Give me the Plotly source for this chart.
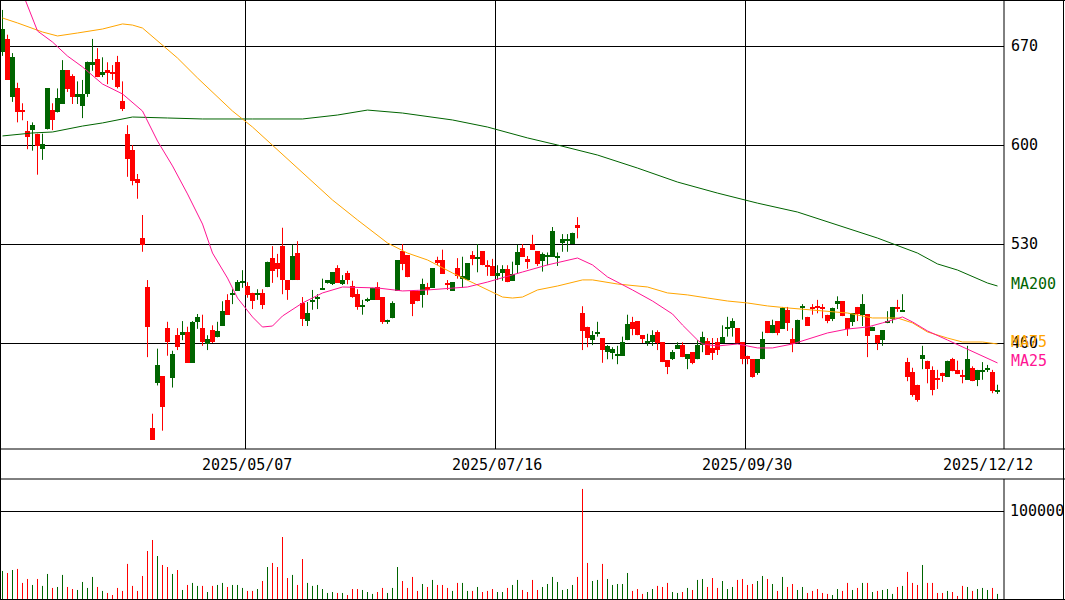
import plotly.graph_objects as go

# ---------------- data ----------------
tick_labels = ["2025/05/07", "2025/07/16", "2025/09/30", "2025/12/12"]
tick_idx = [49, 99, 149, 199]
price_ticks = [460, 530, 600, 670]
vol_ticks = [100000]

opens = [665.5, 675, 634, 640, 624.5, 610, 610.5, 608, 597, 611,
         624.5, 623, 629, 653, 649, 634, 627.5, 636, 656.5, 661,
         649.5, 653, 651.5, 658.5, 631, 608, 596.5, 576, 534.5, 499.5,
         400, 431.5, 436.5, 470.5, 435.5, 465.5, 465.5, 468, 446, 475,
         470.5, 459, 469, 464, 472, 490.5, 494, 497, 502.5, 500.5,
         495.5, 494.5, 495.5, 499.5, 520, 516.5, 528.5, 504.5, 504.5, 523.5,
         488.5, 475.5, 489.5, 491, 497.5, 502.5, 501.5, 513, 501.5, 509.5,
         500.5, 494.5, 485.5, 489.5, 490.5, 499.5, 492.5, 475, 477.5, 497,
         525, 522, 497, 497, 494, 499.5, 499, 519, 519, 502.5,
         497, 513, 505.5, 504.5, 522, 519.5, 525, 515, 514.5, 507.5,
         509.5, 512.5, 504, 515, 527, 519.5, 530, 525, 518, 521.5,
         521, 520.5, 531, 532.5, 530, 543.5, 481, 471.5, 462, 467,
         463.5, 453.5, 453, 451.5, 451, 462, 475, 475.5, 465.5, 460,
         460.5, 468, 460.5, 448, 448.5, 456, 458.5, 448.5, 453.5, 448.5,
         458.5, 461.5, 456.5, 460.5, 460, 470.5, 470.5, 470.5, 460.5, 451,
         448.5, 439, 448.5, 475.5, 467, 475.5, 470, 483.5, 463, 460,
         485, 478.5, 485.5, 486, 485.5, 480, 477, 487.5, 489.5, 477.5,
         475, 485.5, 480, 480.5, 468.5, 465.5, 462, 474, 477, 485.5,
         482, 446.5, 439.5, 430.5, 448.5, 447.5, 441, 434.5, 439, 436,
         448.5, 441, 437.5, 434, 442.5, 434, 440, 441, 439.5, 426]

highs = [695.5, 678, 665, 644, 629.5, 617, 616, 608, 608, 640,
         629.5, 640, 660, 653, 650, 645, 646, 659, 675, 668.5,
         662, 658.5, 656.5, 663, 645, 614, 600, 579.5, 550.5, 504.5,
         410, 456, 436.5, 475, 454.5, 470.5, 475.5, 471.5, 475.5, 480.5,
         480, 465.5, 472.5, 475, 489.5, 494.5, 498, 504.5, 511.5, 503,
         495.5, 498, 498, 517.5, 528.5, 523, 541.5, 504.5, 529.5, 532,
         492.5, 489, 497.5, 494.5, 505.5, 504.5, 510, 515, 508, 511,
         504, 498, 490.5, 492, 499, 503, 492.5, 476.5, 489.5, 518.5,
         530, 522, 497, 497, 505.5, 502.5, 513, 521, 526, 504.5,
         503, 520, 521, 516.5, 525, 530, 525, 518.5, 519.5, 515,
         515, 515, 517.5, 529.5, 530, 521.5, 536.5, 525, 524, 524,
         542, 524, 537, 537, 538, 549, 486, 471.5, 468.5, 475,
         463.5, 458.5, 457, 458, 464.5, 480, 478.5, 475.5, 465.5, 466.5,
         469, 469, 460.5, 448, 455, 460.5, 460.5, 452, 453.5, 462,
         468, 463.5, 463.5, 463.5, 472.5, 478.5, 477.5, 470.5, 460.5, 451,
         448.5, 448.5, 468, 475.5, 476.5, 475.5, 485.5, 485.5, 470.5, 476.5,
         487.5, 478.5, 487.5, 490.5, 487.5, 480, 485, 493, 489.5, 477.5,
         481, 485.5, 494.5, 480.5, 471.5, 465.5, 469, 482.5, 485.5, 490.5,
         494.5, 449.5, 442.5, 430.5, 458, 447.5, 443.5, 441, 439, 447.5,
         449.5, 447.5, 441, 458, 443.5, 441, 446.5, 444.5, 441, 430.5]

lows = [663, 646, 630.5, 616, 617.5, 597, 596, 579, 589.5, 611,
        610.5, 623, 629, 637.5, 629, 629, 619, 634, 652.5, 648,
        648, 643, 646, 640, 624, 577.5, 571.5, 562, 524.5, 450,
        391.5, 430, 398, 451, 428.5, 455, 462, 446, 446, 470,
        458, 455, 460, 464, 472, 480, 487.5, 497, 499, 492,
        484, 490.5, 484, 499.5, 502.5, 506.5, 494.5, 490.5, 504.5, 504.5,
        472, 472, 483.5, 484, 497.5, 502, 501, 502.5, 501, 501.5,
        492, 483.5, 480, 489, 490.5, 490.5, 473.5, 473.5, 477.5, 497,
        511.5, 506.5, 479, 489.5, 485, 494, 499, 515, 509, 497.5,
        497, 505.5, 499, 504.5, 515, 510, 515, 507.5, 507.5, 504.5,
        504, 503, 504, 509, 521, 512.5, 526, 514.5, 510.5, 515,
        521, 514.5, 524.5, 524.5, 530, 534, 455, 457, 458.5, 464.5,
        446, 448.5, 448.5, 445, 451, 462, 465.5, 465.5, 460, 458,
        458, 455, 446.5, 438, 448, 456, 450, 441.5, 445, 448.5,
        453.5, 451.5, 448, 451.5, 460, 464.5, 464.5, 460, 445, 445,
        435.5, 437.5, 448.5, 467, 467, 465.5, 470, 468.5, 453.5, 459.5,
        476.5, 472, 480, 481, 477.5, 474, 475.5, 484, 479, 465,
        472, 475.5, 472, 450, 468.5, 455, 458, 474, 474, 482,
        482, 433, 422, 418.5, 441.5, 431.5, 423, 427.5, 432.5, 436,
        440, 438, 431.5, 434, 433, 429.5, 434, 439.5, 424.5, 424]

closes = [682, 646, 662, 623, 623, 606, 614, 599, 601, 640,
          617.5, 633, 653, 639.5, 634, 636, 636, 658.5, 658.5, 648,
          651.5, 651, 650, 641, 625.5, 590, 574.5, 573, 529, 471,
          391.5, 444.5, 414.5, 460.5, 452, 457.5, 468, 446, 475, 478.5,
          460.5, 463, 460.5, 468.5, 482.5, 480, 495.5, 503, 503, 494,
          490, 495, 487, 517.5, 511, 512.5, 504.5, 497.5, 521.5, 504.5,
          477, 481, 490.5, 492.5, 498, 504.5, 510, 502.5, 504.5, 504.5,
          492.5, 485.5, 486, 491, 499, 490.5, 475, 475.5, 488.5, 518.5,
          516, 506.5, 487.5, 489.5, 501.5, 497.5, 513, 516.5, 509, 501,
          503, 507.5, 507.5, 516.5, 519.5, 520, 515, 513.5, 507.5, 509.5,
          512.5, 503, 509, 524.5, 521, 517, 526, 516, 523, 522,
          539, 521, 533.5, 533.5, 538, 541.5, 468.5, 463.5, 465.5, 468,
          455, 458, 456, 452, 460.5, 473.5, 470, 465.5, 463, 460.5,
          465.5, 460, 446.5, 443, 453.5, 458.5, 450, 452, 446, 458.5,
          464.5, 451.5, 453, 455, 464.5, 471, 475.5, 460, 448.5, 448.5,
          436, 448.5, 463, 467, 472.5, 467, 485, 474, 459.5, 476.5,
          485.5, 472, 484, 485, 484, 475.5, 485, 489.5, 479, 470,
          481, 480.5, 487.5, 465, 471.5, 460, 469, 475.5, 485.5, 484,
          482.5, 436, 423, 419.5, 451.5, 441.5, 427, 434, 436.5, 447.5,
          440, 438, 436.5, 448.5, 433, 441, 441, 441.5, 426, 427]

volumes = [32200, 29900, 33300, 34500, 18600, 23100, 16300, 23100, 15200, 28800,
           12900, 14000, 27700, 14000, 11700, 10600, 19700, 12900, 25400, 14000,
           9500, 7200, 4900, 12900, 9500, 40200, 15200, 9500, 26500, 54900,
           67400, 49200, 39000, 36700, 28800, 33300, 10600, 16300, 18600, 15200,
           15200, 8300, 15200, 16300, 18600, 14000, 16300, 16300, 12900, 9500,
           9500, 11700, 20800, 36700, 41300, 36700, 70800, 24200, 27700, 16300,
           45800, 18600, 15200, 16300, 11700, 7200, 8300, 7200, 7200, 4900,
           11700, 11700, 10600, 8300, 6100, 8300, 12900, 7200, 12900, 36700,
           20800, 12900, 25400, 9500, 17400, 14000, 22000, 16300, 16300, 12900,
           9500, 18600, 18600, 9500, 9500, 14000, 8300, 9500, 11700, 8300,
           8300, 12900, 16300, 22000, 10600, 8300, 22000, 10600, 14000, 17400,
           25400, 19700, 10600, 11700, 16300, 25400, 125400, 41300, 20800, 22000,
           40200, 23100, 16300, 17400, 17400, 29900, 9500, 11700, 6100, 8300,
           11700, 15200, 14000, 18600, 8300, 7200, 8300, 12900, 10600, 22000,
           23100, 14000, 24200, 12900, 20800, 11700, 14000, 22000, 23100, 16300,
           17400, 20800, 26500, 23100, 17400, 9500, 25400, 14000, 17400, 10600,
           14000, 7200, 9500, 11700, 7200, 6100, 4900, 11700, 9500, 18600,
           10600, 12900, 18600, 18600, 8300, 9500, 10600, 11700, 6100, 14000,
           15200, 31100, 18600, 16300, 39000, 18600, 18600, 7200, 7200, 9500,
           8300, 3800, 15200, 14000, 9500, 11700, 12900, 10600, 12900, 6100]

ma25_idx = [0, 5, 7, 10, 13, 16, 20, 24, 28, 31, 34, 37, 40, 42, 45, 47, 50, 52, 54, 56,
            60, 64, 68, 75, 80, 85, 93, 97, 101, 104, 109, 115, 118, 121, 126, 130, 134, 136,
            139, 140, 143, 147, 151, 154, 158, 162, 165, 169, 173, 176, 179, 180, 182, 185,
            189, 192, 195, 199]
ma25_val = [743.5, 698.3, 680.6, 672.8, 662.9, 655.2, 643.1, 636.1, 624, 602.8, 585.2, 565.4,
            544.1, 523.6, 505.9, 491.8, 478.4, 471.3, 472, 479.1, 488.3, 495.4, 499.6, 498.9,
            496.8, 497.5, 499.6, 503.1, 507.4, 510.2, 515.2, 520.1, 515.2, 506.7, 497.5, 489.7,
            480.5, 472.7, 462.1, 459.3, 457.9, 459.3, 456.5, 456.5, 459.3, 463.5, 467.1, 469.9,
            471.3, 474.2, 477.7, 478.4, 474.9, 468.5, 462.1, 457.2, 452.2, 445.9]

ma75_idx = [0, 3, 8, 11, 15, 20, 24, 26, 28, 31, 35, 39, 43, 46, 50, 59, 66, 71, 77, 81,
            85, 90, 95, 100, 102, 104, 107, 111, 116, 118, 123, 129, 133, 137, 141, 145, 149,
            153, 157, 162, 169, 174, 179, 182, 185, 189, 192, 196, 199]
ma75_val = [689.8, 686.3, 679.9, 677.1, 679.2, 682, 685.6, 684.8, 682.7, 673.5, 661.5, 647.4,
            633.9, 624, 612.7, 583.7, 561.1, 547, 530.7, 523.6, 518.7, 509.5, 501, 492.5,
            491.8, 492.5, 497.5, 500.3, 504.6, 504.6, 501.7, 499.6, 495.4, 494, 491.8, 489.7,
            488.3, 486.2, 484.8, 483.3, 481.2, 477.7, 477.7, 474.2, 467.8, 463.5, 460.7, 460.7,
            459.3]

ma200_idx = [0, 6, 10, 16, 20, 26, 33, 40, 50, 60, 67, 73, 80, 90, 97, 105, 111, 119, 127,
             135, 143, 151, 159, 167, 175, 183, 187, 191, 197, 199]
ma200_val = [606.4, 608.5, 609.2, 613.4, 615.6, 619.8, 619.1, 618.4, 618.4, 618.4, 621.2,
             624.7, 622.6, 617.7, 612.7, 605, 600, 592.9, 583.7, 573.8, 566, 558.9, 552.6,
             543.4, 534.2, 523.6, 515.9, 511.6, 502.4, 500.3]

# ---------------- styling ----------------
GREEN = "#006400"
RED = "#ff0000"
PINK = "#ff1493"
ORANGE = "#ffa500"
MA200C = "#006400"
FONT = dict(family="DejaVu Sans Mono", size=15, color="black")

W, H = 1065, 600
PLOT_R = 1004          # right edge of plot panels (px)
PRICE_BOTTOM = 449     # bottom of price panel (px)
VOL_TOP = 479          # top of volume panel (px)
VOL_BASE = 599.3       # zero line of volume panel (px)

n = len(opens)
xs = list(range(n))
is_up = [c >= o for o, c in zip(opens, closes)]
body_base = [min(o, c) for o, c in zip(opens, closes)]
body_h = [max(abs(c - o), 0.75) for o, c in zip(opens, closes)]


def segments(idx, lo, hi):
    sx, sy = [], []
    for i, a, b in zip(idx, lo, hi):
        sx += [i, i, None]
        sy += [a, b, None]
    return sx, sy


fig = go.Figure()

for up, col in [(True, GREEN), (False, RED)]:
    sel = [i for i in xs if is_up[i] == up]
    # wicks
    wx, wy = segments(sel, [lows[i] for i in sel], [highs[i] for i in sel])
    fig.add_trace(go.Scatter(x=wx, y=wy, mode="lines", line=dict(color=col, width=1),
                             xaxis="x", yaxis="y", hoverinfo="skip"))
    # bodies
    fig.add_trace(go.Bar(x=sel, y=[body_h[i] for i in sel], base=[body_base[i] for i in sel],
                         width=1.0, marker=dict(color=col, line=dict(width=0)),
                         xaxis="x", yaxis="y", hoverinfo="skip"))
    # volume
    vx, vy = segments(sel, [0] * len(sel), [volumes[i] for i in sel])
    fig.add_trace(go.Scatter(x=vx, y=vy, mode="lines", line=dict(color=col, width=1),
                             xaxis="x2", yaxis="y2", hoverinfo="skip"))

# moving averages
fig.add_trace(go.Scatter(x=ma200_idx, y=ma200_val, mode="lines",
                         line=dict(color=MA200C, width=1), xaxis="x", yaxis="y"))
fig.add_trace(go.Scatter(x=ma75_idx, y=ma75_val, mode="lines",
                         line=dict(color=ORANGE, width=1), xaxis="x", yaxis="y"))
fig.add_trace(go.Scatter(x=ma25_idx, y=ma25_val, mode="lines",
                         line=dict(color=PINK, width=1), xaxis="x", yaxis="y"))

# axis ranges derived from pixel geometry
x_lo = -0.5
x_hi = (PLOT_R - 2.5) / 5.0
px_per_unit = 99.0 / 70.0
y_hi = 670 + 46 / px_per_unit
y_lo = 670 - (PRICE_BOTTOM - 46) / px_per_unit
v_hi = 100000 * (VOL_BASE - VOL_TOP) / 88.0

fig.update_layout(
    width=W, height=H, margin=dict(l=0, r=0, t=0, b=0),
    paper_bgcolor="white", plot_bgcolor="white",
    showlegend=False, barmode="overlay", bargap=0,
    xaxis=dict(domain=[0, PLOT_R / W], range=[x_lo, x_hi],
               tickvals=[t - 0.5 for t in tick_idx[:-1]], showticklabels=False,
               showgrid=True, gridcolor="black", gridwidth=1, ticks="",
               zeroline=False, showline=False),
    yaxis=dict(domain=[(H - PRICE_BOTTOM) / H, 1], range=[y_lo, y_hi],
               tickvals=price_ticks, showticklabels=False,
               showgrid=True, gridcolor="black", gridwidth=1, ticks="",
               zeroline=False, showline=False),
    xaxis2=dict(domain=[0, PLOT_R / W], range=[x_lo, x_hi], anchor="y2",
                showticklabels=False, showgrid=False, ticks="",
                zeroline=False, showline=False),
    yaxis2=dict(domain=[(H - VOL_BASE) / H, (H - VOL_TOP) / H], range=[0, v_hi],
                anchor="x2", tickvals=vol_ticks, showticklabels=False,
                showgrid=True, gridcolor="black", gridwidth=1, ticks="",
                zeroline=False, showline=False),
)


def px_x(p):
    return p / W


def px_y(p):
    return (H - p) / H


line = dict(color="black", width=1)
shapes = [
    # outer frame
    dict(type="line", xref="paper", yref="paper", x0=0, x1=1, y0=px_y(0.5), y1=px_y(0.5), line=line),
    dict(type="line", xref="paper", yref="paper", x0=px_x(0.5), x1=px_x(0.5), y0=0, y1=1, line=line),
    dict(type="line", xref="paper", yref="paper", x0=px_x(W - 1.5), x1=px_x(W - 1.5), y0=0, y1=1, line=line),
    dict(type="line", xref="paper", yref="paper", x0=0, x1=1, y0=px_y(VOL_BASE + 0.2), y1=px_y(VOL_BASE + 0.2), line=line),
    # price panel right edge and bottom
    dict(type="line", xref="paper", yref="paper", x0=px_x(PLOT_R), x1=px_x(PLOT_R), y0=px_y(0), y1=px_y(PRICE_BOTTOM), line=line),
    dict(type="line", xref="paper", yref="paper", x0=0, x1=1, y0=px_y(PRICE_BOTTOM), y1=px_y(PRICE_BOTTOM), line=line),
    # volume panel top and right edge
    dict(type="line", xref="paper", yref="paper", x0=0, x1=1, y0=px_y(VOL_TOP), y1=px_y(VOL_TOP), line=line),
    dict(type="line", xref="paper", yref="paper", x0=px_x(PLOT_R), x1=px_x(PLOT_R), y0=px_y(VOL_TOP), y1=0, line=line),
]
fig.update_layout(shapes=shapes)

ann = []
for v in price_ticks:
    ann.append(dict(x=px_x(1009), y=v, xref="paper", yref="y", text=str(v),
                    showarrow=False, xanchor="left", yanchor="middle", font=FONT))
for v in vol_ticks:
    ann.append(dict(x=px_x(1008), y=v, xref="paper", yref="y2", text=str(v),
                    showarrow=False, xanchor="left", yanchor="middle", font=FONT))
for k, (lab, ti) in enumerate(zip(tick_labels, tick_idx)):
    if k < len(tick_labels) - 1:
        ann.append(dict(x=ti - 0.2, y=px_y(464.7), xref="x", yref="paper", text=lab,
                        showarrow=False, xanchor="center", yanchor="middle", font=FONT))
    else:
        ann.append(dict(x=px_x(1035), y=px_y(464.7), xref="paper", yref="paper", text=lab,
                        showarrow=False, xanchor="right", yanchor="middle", font=FONT))
for name, vals, col in [("MA200", ma200_val, MA200C), ("MA75", ma75_val, ORANGE), ("MA25", ma25_val, PINK)]:
    ann.append(dict(x=px_x(1009), y=vals[-1], xref="paper", yref="y", text=name,
                    showarrow=False, xanchor="left", yanchor="middle", yshift=2,
                    font=dict(family="DejaVu Sans Mono", size=15, color=col)))
fig.update_layout(annotations=ann)

fig.write_html(
    "out.html",
    config={"displayModeBar": False},
    post_script="document.body.style.margin='0';document.body.style.padding='0';",
)
